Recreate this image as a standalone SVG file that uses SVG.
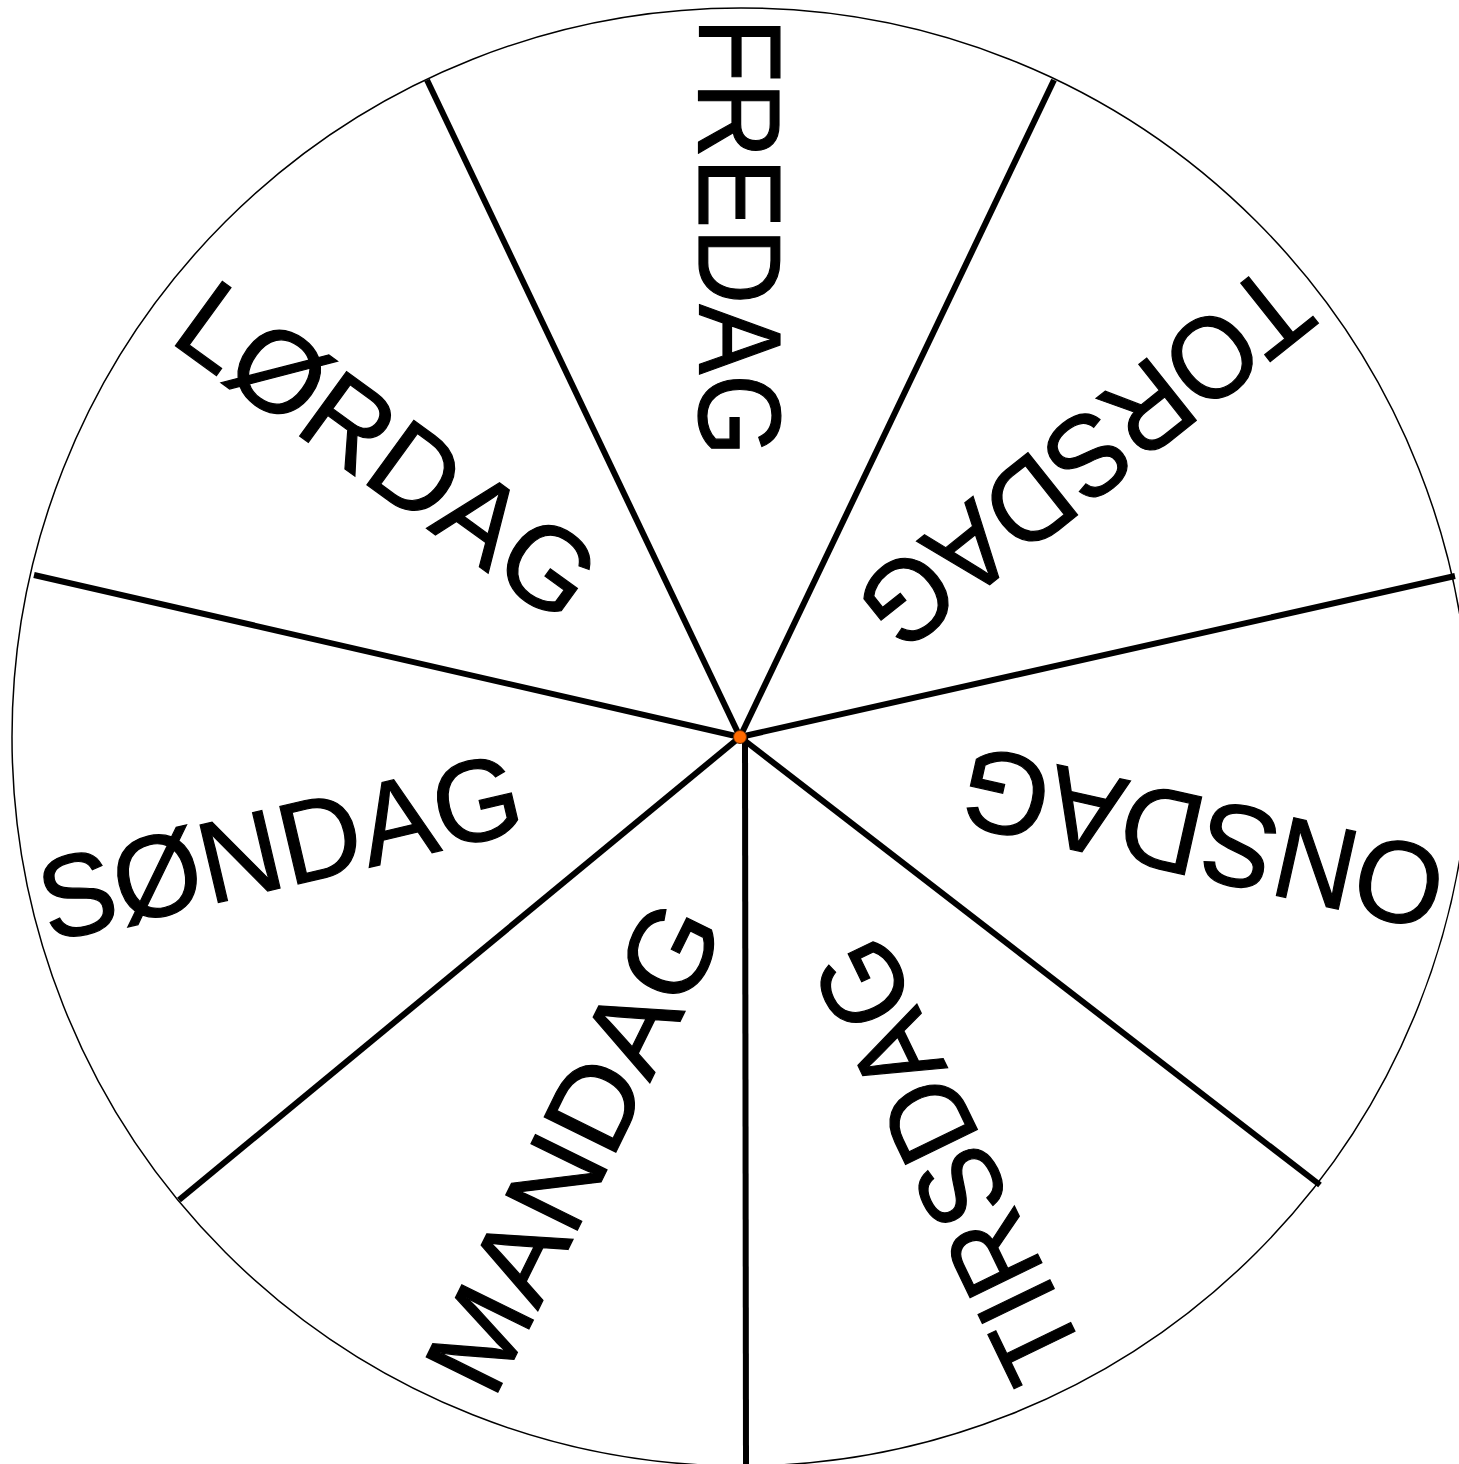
<svg xmlns="http://www.w3.org/2000/svg" width="1459" height="1464" viewBox="0 0 1459 1464">
<style>
.lbl{font-family:"Liberation Sans","DejaVu Sans",sans-serif;font-size:116px;fill:#000;stroke:#000;stroke-width:1.2}
.spoke{stroke:#000;stroke-width:6;stroke-linecap:butt}
</style>
<rect width="1459" height="1464" fill="#fff"/>
<g id="rim"><circle cx="741" cy="737" r="729" fill="#fff" stroke="#000" stroke-width="1.5"/></g>
<g id="spokes">
<line class="spoke" x1="740" y1="737" x2="427" y2="80"/>
<line class="spoke" x1="740" y1="737" x2="1054" y2="80"/>
<line class="spoke" x1="740" y1="737" x2="1455" y2="576"/>
<line class="spoke" x1="740" y1="737" x2="1320" y2="1185"/>
<line class="spoke" x1="745" y1="737" x2="746" y2="1464"/>
<line class="spoke" x1="740" y1="737" x2="179" y2="1200"/>
<line class="spoke" x1="740" y1="737" x2="34" y2="575"/>
</g>
<g id="fredag"><text class="lbl" x="-719" y="42" textLength="438" lengthAdjust="spacingAndGlyphs" transform="translate(741,737) rotate(90)">FREDAG</text></g>
<g id="torsdag"><text class="lbl" x="-712" y="44" textLength="538" lengthAdjust="spacingAndGlyphs" transform="translate(741,737) rotate(141.5)">TORSDAG</text></g>
<g id="onsdag"><text class="lbl" x="-718" y="42" textLength="492" lengthAdjust="spacingAndGlyphs" transform="translate(741,737) rotate(192.6)">ONSDAG</text></g>
<g id="tirsdag"><text class="lbl" x="-708" y="42" textLength="474" lengthAdjust="spacingAndGlyphs" transform="translate(741,737) rotate(244.2)">TIRSDAG</text></g>
<g id="mandag"><text class="lbl" x="-705" y="71" textLength="528" lengthAdjust="spacingAndGlyphs" transform="translate(741,737) rotate(-63.8)">MANDAG</text></g>
<g id="sondag"><text class="lbl" x="-720" y="42" textLength="492" lengthAdjust="spacingAndGlyphs" transform="translate(741,737) rotate(-13.2)">SØNDAG</text></g>
<g id="lordag"><text class="lbl" x="-697" y="16" textLength="486" lengthAdjust="spacingAndGlyphs" transform="translate(741,737) rotate(36)">LØRDAG</text></g>
<g id="hub"><circle cx="740" cy="737" r="6.5" fill="#ff6a00" stroke="#6a2a00" stroke-width="1"/></g>
</svg>
